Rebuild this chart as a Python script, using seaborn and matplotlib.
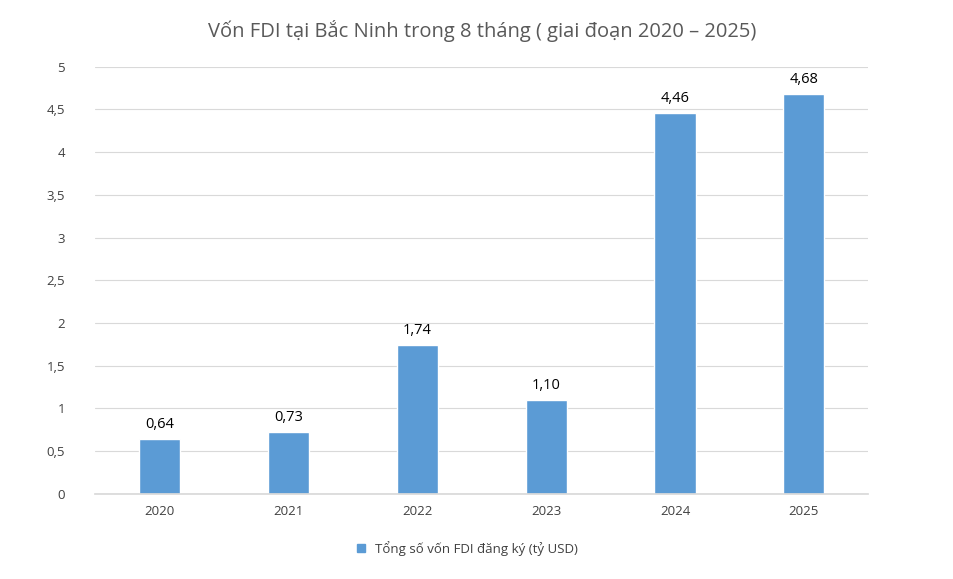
import matplotlib
matplotlib.use("Agg")
import matplotlib.pyplot as plt
import seaborn as sns
import pandas as pd
from matplotlib.patches import Patch

years = ["2020", "2021", "2022", "2023", "2024", "2025"]
fdi = [0.64, 0.73, 1.74, 1.10, 4.46, 4.68]
yticks = [0, 0.5, 1, 1.5, 2, 2.5, 3, 3.5, 4, 4.5, 5]

sns.set_theme(style="white")
plt.rcParams['font.family'] = ['Open Sans', 'DejaVu Sans']

df = pd.DataFrame({"year": years, "fdi": fdi})
fig = plt.figure(figsize=(9.54, 5.79), dpi=100)
ax = fig.add_axes([0.1, 0.147, 0.81, 0.738])
color = "#5B9BD5"
sns.barplot(data=df, x="year", y="fdi", color=color, width=0.32, saturation=1, ax=ax)

for i, v in enumerate(fdi):
    ax.text(i, v + 0.08, f"{v:.2f}".replace(".", ","), ha="center", va="bottom",
            fontsize=10.5, color="#000000")

ax.set_ylim(0, 5)
ax.set_yticks(yticks)
ax.set_yticklabels([f"{t:g}".replace(".", ",") for t in yticks], fontsize=9.5, color="#404040")
ax.tick_params(axis="x", labelsize=9.5, colors="#404040", length=0, pad=8)
ax.tick_params(axis="y", length=0, pad=22)
ax.yaxis.grid(True, color="#D9D9D9", linewidth=0.8)
ax.set_axisbelow(True)
for s in ["top", "right", "left"]:
    ax.spines[s].set_visible(False)
ax.spines["bottom"].set_color("#D9D9D9")
ax.set_xlabel("")
ax.set_ylabel("")

fig.suptitle("Vốn FDI tại Bắc Ninh trong 8 tháng ( giai đoạn 2020 – 2025)",
             x=0.505, y=0.965, fontsize=14.5, color="#595959")
fig.legend(handles=[Patch(color=color, label="Tổng số vốn FDI đăng ký (tỷ USD)")],
           loc="lower center", bbox_to_anchor=(0.49, 0.02), frameon=False,
           fontsize=9.5, handlelength=0.6, handleheight=0.6, labelcolor="#404040")

fig.savefig("out.png", dpi=100)
